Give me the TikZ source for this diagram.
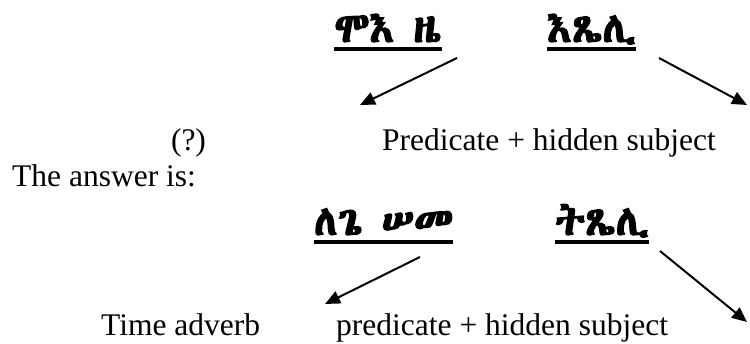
\documentclass[tikz,border=0pt]{standalone}
\usepackage{fontspec}
\setmainfont{Liberation Serif}
\IfFontExistsTF{Abyssinica SIL}{\newfontfamily\ethfont[FakeBold=3]{Abyssinica SIL}}{%
  \IfFontExistsTF{FreeSerif}{\newfontfamily\ethfont[FakeBold=3]{FreeSerif}}{\newfontfamily\ethfont{DejaVu Sans}}}
\usetikzlibrary{arrows.meta}

\begin{document}
\begin{tikzpicture}[x=1pt, y=1pt, >={Triangle[length=15pt,width=13pt]}]

  % ---------- Styling ----------
  \tikzset{
    gez/.style={font=\ethfont\fontsize{42}{46}\selectfont, inner sep=0pt, anchor=base},
    gloss/.style={font=\fontsize{31.5}{36}\selectfont, inner sep=0pt, anchor=base west},
    uline/.style={line width=4.5pt},
    pointer/.style={line width=2pt, ->}
  }

  \useasboundingbox (0,0) rectangle (750,344);

  % ---------- Question ----------
  \node[gez] (when) at (388,302) {ሞእ ዜ};
  \node[gez] (pray) at (591.5,302) {እጼሊ};
  \draw[uline] ([yshift=-7pt]when.base west) -- ([yshift=-7pt]when.base east);
  \draw[uline] ([yshift=-7pt]pray.base west) -- ([yshift=-7pt]pray.base east);

  \node[gloss, anchor=base] (qmark) at (188.5,193) {(?)};
  \node[gloss] (predq) at (382,193) {Predicate + hidden subject};

  \coordinate (whenfrom) at (457,286);
  \coordinate (whento) at (360,239);
  \coordinate (prayfrom) at (659,286);
  \coordinate (prayto) at (747,239);
  \draw[pointer] (whenfrom) -- (whento);
  \draw[pointer] (prayfrom) -- (prayto);

  % ---------- Answer ----------
  \node[gloss] (answer) at (12,157) {The answer is:};

  \node[gez] (tomorrow) at (383.5,109) {ለጌ ሠመ};
  \node[gez] (youpray) at (602,109) {ትጼሊ};
  \draw[uline] ([yshift=-7pt]tomorrow.base west) -- ([yshift=-7pt]tomorrow.base east);
  \draw[uline] ([yshift=-7pt]youpray.base west) -- ([yshift=-7pt]youpray.base east);

  \node[gloss] (timeadv) at (101,8) {Time adverb};
  \node[gloss] (preda) at (336,8) {predicate + hidden subject};

  \coordinate (tomfrom) at (420,87);
  \coordinate (tomto) at (325,40);
  \coordinate (youfrom) at (660,93);
  \coordinate (youto) at (747,22);
  \draw[pointer] (tomfrom) -- (tomto);
  \draw[pointer] (youfrom) -- (youto);

\end{tikzpicture}
\end{document}
